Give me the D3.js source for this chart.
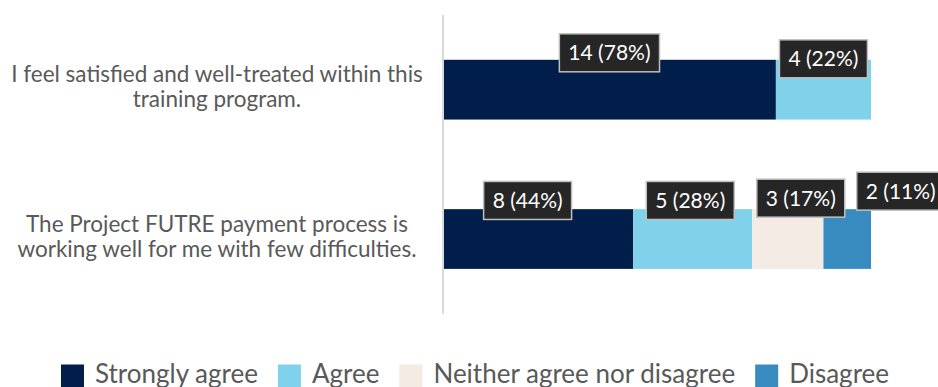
<!DOCTYPE html>
<html>
<head>
<meta charset="utf-8">
<script src="https://cdn.jsdelivr.net/npm/d3@7"></script>
<style>
  html, body { margin: 0; padding: 0; background: #fff; }
  svg { display: block; }
</style>
</head>
<body>
<svg id="chart" width="938" height="387"></svg>
<script>
// Survey statements (one array of wrapped lines per statement)
const categories = [
  ["I feel satisfied and well-treated within this", "training program."],
  ["The Project FUTRE payment process is", "working well for me with few difficulties."]
];
const seriesNames = ["Strongly agree", "Agree", "Neither agree nor disagree", "Disagree"];
// Respondent counts per statement
const stronglyAgree = [14, 8];
const agree = [4, 5];
const neither = [0, 3];
const disagree = [0, 2];

const colors = ["#011E4A", "#80D2EA", "#F3EBE4", "#378BBE"];

// Hand-placed label nudges [dx, dy] relative to segment centre / bar top
const labelNudge = [
  [[0, -7], [0, -1], [0, 0], [0, 0]],
  [[-10.5, -8.7], [-2.4, -8.7], [13, -11], [53.5, -18]]
];

const svg = d3.select("#chart");
const margin = { left: 443, right: 67, top: 15, bottom: 74 };
const W = 938, H = 387;

const seriesValues = [stronglyAgree, agree, neither, disagree];
const rows = categories.map((c, i) => {
  const r = { idx: i };
  seriesNames.forEach((s, j) => r[s] = seriesValues[j][i]);
  return r;
});
const totals = rows.map(r => d3.sum(seriesNames, s => r[s]));

const x = d3.scaleLinear()
  .domain([0, d3.max(totals)])
  .range([margin.left, W - margin.right]);
const y = d3.scaleBand()
  .domain(d3.range(categories.length))
  .range([margin.top, H - margin.bottom + 0.7])
  .paddingInner(0.6)
  .paddingOuter(0.3);

const stacked = d3.stack().keys(seriesNames)(rows);

// bars
const layers = svg.append("g").selectAll("g")
  .data(stacked).join("g")
  .attr("fill", (d, i) => colors[i]);
layers.selectAll("rect")
  .data(d => d.filter(p => p[1] > p[0]))
  .join("rect")
  .attr("x", d => x(d[0]))
  .attr("width", d => x(d[1]) - x(d[0]))
  .attr("y", d => y(d.data.idx))
  .attr("height", y.bandwidth());

// vertical category axis line
svg.append("line")
  .attr("x1", x(0)).attr("x2", x(0))
  .attr("y1", margin.top).attr("y2", H - margin.bottom + 0.7)
  .attr("stroke", "#D9D9D9").attr("stroke-width", 2);

// category labels
const catFont = 22.5, lh = 25, catX = 217;
const catG = svg.append("g")
  .attr("font-family", "Lato, 'Open Sans', sans-serif")
  .attr("font-size", catFont)
  .attr("fill", "#595959")
  .attr("text-anchor", "middle");
categories.forEach((lines, i) => {
  const cy = y(i) + y.bandwidth() / 2;
  const t = catG.append("text").attr("x", catX);
  lines.forEach((ln, k) => {
    t.append("tspan")
      .attr("x", catX)
      .attr("y", cy - ((lines.length - 1) * lh) / 2 + k * lh + 5)
      .text(ln);
  });
});

// data labels
const lblG = svg.append("g")
  .attr("font-family", "Lato, 'Open Sans', sans-serif")
  .attr("font-size", 21);
stacked.forEach((layer, j) => {
  layer.forEach((p, i) => {
    const v = p[1] - p[0];
    if (v <= 0) return;
    const pct = Math.round(v / totals[i] * 100);
    const cx = (x(p[0]) + x(p[1])) / 2 + labelNudge[i][j][0];
    const cy = y(i) + labelNudge[i][j][1];
    const g = lblG.append("g");
    const rect = g.append("rect");
    const txt = g.append("text")
      .attr("x", cx).attr("y", cy + 7.5)
      .attr("text-anchor", "middle")
      .attr("fill", "#FFFFFF")
      .text(`${v} (${pct}%)`);
    const tw = txt.node().getComputedTextLength();
    const bw = tw + 18, bh = 38;
    rect.attr("x", cx - bw / 2).attr("y", cy - bh / 2)
      .attr("width", bw).attr("height", bh)
      .attr("fill", "#262626")
      .attr("stroke", "#BFBFBF").attr("stroke-width", 1.5);
  });
});

// legend
const legFont = 26, sq = 23, gapText = 11, gapItem = 20;
const leg = svg.append("g")
  .attr("font-family", "Lato, 'Open Sans', sans-serif")
  .attr("font-size", legFont)
  .attr("fill", "#595959");
let cursor = 0;
seriesNames.forEach((name, i) => {
  const g = leg.append("g");
  g.append("rect").attr("width", sq).attr("height", sq).attr("fill", colors[i]);
  const t = g.append("text").attr("x", sq + gapText).attr("y", 18).text(name);
  const w = sq + gapText + t.node().getComputedTextLength();
  g.attr("transform", `translate(${cursor},364.5)`);
  cursor += w + gapItem;
});
const legW = cursor - gapItem;
leg.attr("transform", `translate(${475 - legW / 2},0)`);
</script>
</body>
</html>
